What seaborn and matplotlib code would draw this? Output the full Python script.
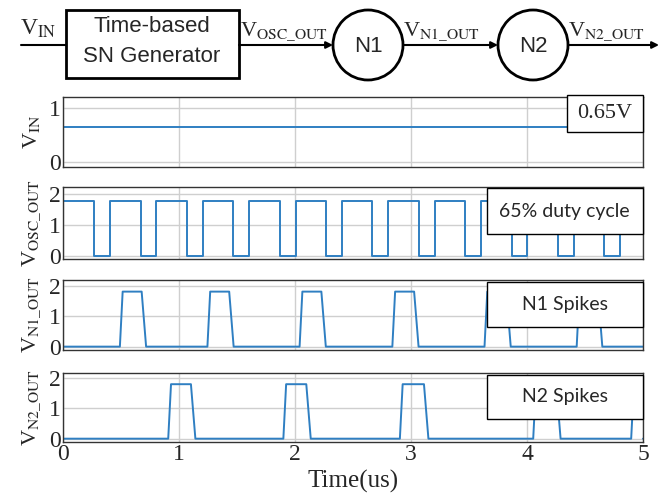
import numpy as np
import pandas as pd
import seaborn as sns
import matplotlib.pyplot as plt
from matplotlib.patches import Rectangle, Circle

# ---- data ----
t_span = [0.0, 5.0]
v_in = [0.65, 0.65]

osc_high = 1.8
osc_fall = [0.266, 0.666, 1.066, 1.466, 1.866, 2.266, 2.666, 3.066, 3.466, 3.866, 4.266, 4.666]
osc_rise = [0.403, 0.803, 1.203, 1.603, 2.003, 2.403, 2.803, 3.203, 3.603, 4.003, 4.403, 4.803]

spike_high = 1.8
n1_on = [0.50, 1.255, 2.05, 2.85, 3.645, 4.44]
n1_off = [0.695, 1.45, 2.245, 3.045, 3.84, 4.63]
n2_on = [0.917, 1.91, 2.915, 4.065, 4.91]
n2_off = [1.12, 2.115, 3.13, 4.27, 5.2]

xticks = [0, 1, 2, 3, 4, 5]


def square_wave(falls, rises, hi):
    t, v = [t_span[0]], [hi]
    for f, r in zip(falls, rises):
        t += [f, f, r, r]
        v += [hi, 0, 0, hi]
    t.append(t_span[1]); v.append(hi)
    return pd.DataFrame({'t': t, 'v': v})


def spikes(ons, offs, hi, edge=0.012):
    # trapezoid pulses, slightly slower on the falling edge
    t, v = [t_span[0]], [0.0]
    for a, b in zip(ons, offs):
        t += [a - edge, a + edge, b - edge * 1.6, b + edge * 1.6]
        v += [0, hi, hi, 0]
    t.append(t_span[1]); v.append(0.0)
    return pd.DataFrame({'t': t, 'v': v})


df_in = pd.DataFrame({'t': t_span, 'v': v_in})
df_osc = square_wave(osc_fall, osc_rise, osc_high)
df_n1 = spikes(n1_on, n1_off, spike_high)
df_n2 = spikes(n2_on, n2_off, spike_high)

# ---- style ----
sns.set_theme(style='whitegrid')
plt.rcParams['font.family'] = ['Liberation Serif', 'DejaVu Serif']
plt.rcParams['mathtext.fontset'] = 'stix'

line_col = '#2f7fc2'
fig = plt.figure(figsize=(6.59, 4.97), dpi=100)

W, H = 659.0, 497.0
left, right = 63.3, 643.0
# (top px, bottom px) for each panel
panels = [
    (df_in, (96.7, 167.3), (-0.1, 1.2), [0, 1], r'V$_{\mathrm{IN}}$', '0.65V', (95, 131.7), 567.3),
    (df_osc, (187.3, 259.3), (-0.11, 2.23), [0, 1, 2], r'V$_{\mathrm{OSC\_OUT}}$', '65% duty cycle', (188.4, 233.8), 486.5),
    (df_n1, (280.0, 350.0), (-0.11, 2.18), [0, 1, 2], r'V$_{\mathrm{N1\_OUT}}$', 'N1 Spikes', (281.8, 326.8), 486.5),
    (df_n2, (372.7, 441.7), (-0.1, 2.18), [0, 1, 2], r'V$_{\mathrm{N2\_OUT}}$', 'N2 Spikes', (374.7, 418.9), 486.5),
]

axes = []
for i, (df, (top, bot), ylim, yt, ylab, note, (bt, bb), bx) in enumerate(panels):
    ax = fig.add_axes([left / W, 1 - bot / H, (right - left) / W, (bot - top) / H])
    sns.lineplot(data=df, x='t', y='v', ax=ax, color=line_col, lw=1.4,
                 estimator=None, sort=False)
    ax.set_xlim(0, 5)
    ax.set_ylim(*ylim)
    ax.set_xticks(xticks)
    ax.set_yticks(yt)
    ax.grid(True, color='#cfcfcf', lw=1.0)
    for s in ax.spines.values():
        s.set_color('#333333'); s.set_linewidth(1.0)
    ax.tick_params(length=0, labelsize=17, pad=2)
    ax.set_ylabel(ylab, fontsize=16, labelpad=5)
    ax.set_xlabel('')
    if i < 3:
        ax.set_xticklabels([])
    else:
        ax.set_xlabel('Time(us)', fontsize=18, labelpad=3)
    # note box
    h = bot - top
    x0 = (bx - left) / (right - left)
    y0 = (bot - bb) / h
    y1 = (bot - bt) / h
    ax.add_patch(Rectangle((x0, y0), 1 - x0, y1 - y0, transform=ax.transAxes,
                           facecolor='white', edgecolor='black', lw=1.0,
                           clip_on=False, zorder=5))
    if i == 0:
        ax.text((x0 + 1) / 2, (y0 + y1) / 2, note, transform=ax.transAxes,
                ha='center', va='center', fontsize=16, zorder=6)
    else:
        ax.text((x0 + 1) / 2, (y0 + y1) / 2, note, transform=ax.transAxes,
                ha='center', va='center', fontsize=14, family='Lato', zorder=6)
    axes.append(ax)

fig.align_ylabels(axes)

# ---- block diagram on top, in pixel coordinates ----
dg = fig.add_axes([0, 1 - 92 / H, 1, 92 / H])
dg.set_xlim(0, W)
dg.set_ylim(92, 0)
dg.axis('off')

ly = 45
dg.plot([21, 66], [ly, ly], color='black', lw=1.5)
dg.add_patch(Rectangle((66, 10), 173, 68, facecolor='white', edgecolor='black', lw=2))
dg.text(152, 27, 'Time-based', ha='center', va='center', fontsize=16, family='Liberation Sans')
dg.text(152, 56, 'SN Generator', ha='center', va='center', fontsize=16, family='Liberation Sans')

for cx, lab in [(368, 'N1'), (533, 'N2')]:
    dg.add_patch(Circle((cx, ly), 35, facecolor='white', edgecolor='black', lw=2))
    dg.text(cx, ly + 1, lab, ha='center', va='center', fontsize=16, family='Liberation Sans')

arrows = [(239, 333), (403, 498), (568, 659)]
for a, b in arrows:
    dg.annotate('', xy=(b, ly), xytext=(a, ly),
                arrowprops=dict(arrowstyle='-|>', color='black', lw=1.5,
                                mutation_scale=10, shrinkA=0, shrinkB=0))

dg.text(20, 35, r'V$_{\mathrm{IN}}$', fontsize=17, ha='left', va='baseline')
dg.text(240, 35, r'V$_{\mathrm{OSC\_OUT}}$', fontsize=16, ha='left', va='baseline')
dg.text(403, 35, r'V$_{\mathrm{N1\_OUT}}$', fontsize=16, ha='left', va='baseline')
dg.text(568, 35, r'V$_{\mathrm{N2\_OUT}}$', fontsize=16, ha='left', va='baseline')

fig.savefig('out.png', dpi=100)
